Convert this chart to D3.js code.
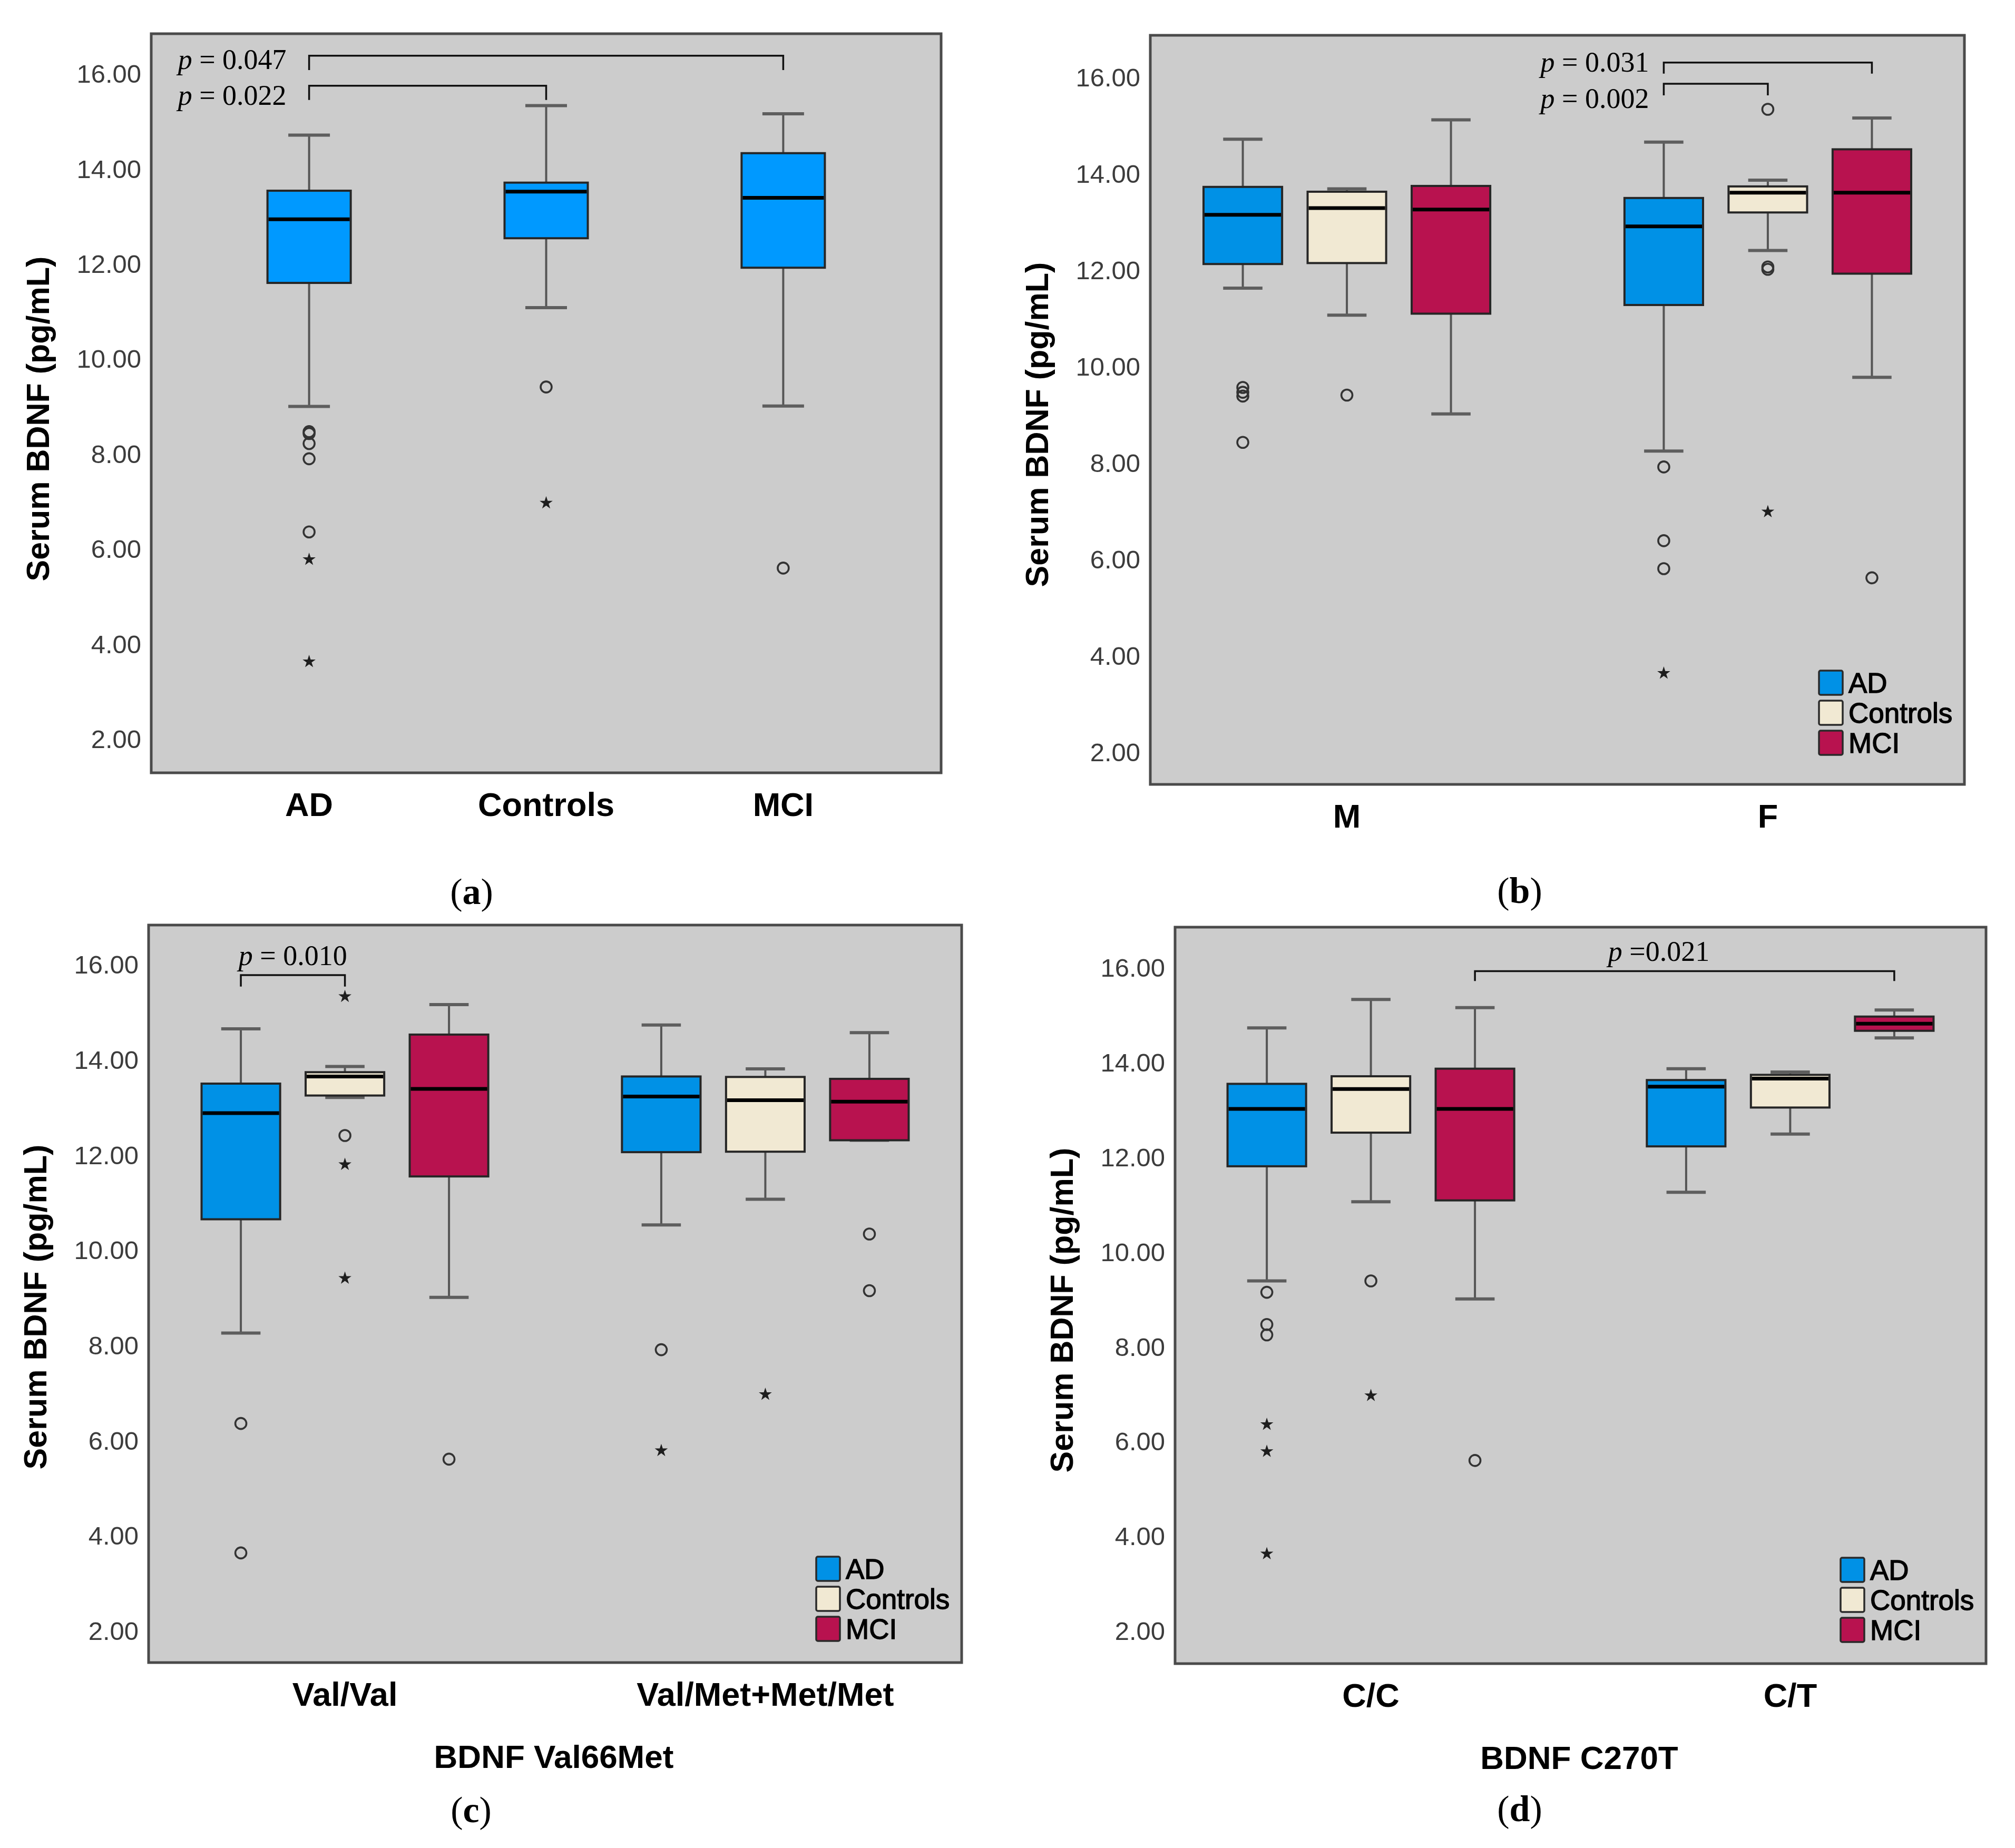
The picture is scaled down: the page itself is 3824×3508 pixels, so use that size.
<!DOCTYPE html>
<html><head><meta charset="utf-8">
<script src="https://cdn.jsdelivr.net/npm/d3@7"></script>
<style>body{margin:0;background:#fff}svg{display:block}</style>
</head><body>
<svg id="chart" width="3824" height="3508"></svg>
<script>
// ---------------- DATA ----------------
const groups = ["AD", "Controls", "MCI"];
const yTicks = [2, 4, 6, 8, 10, 12, 14, 16];

// box stats: [lower whisker, Q1, median, Q3, upper whisker]
// Panel (a)
const catsA = ["AD", "Controls", "MCI"];
const boxesA = [
  [9.01, 11.61, 12.95, 13.55, 14.72],
  [11.09, 12.55, 13.53, 13.72, 15.34],
  [9.02, 11.93, 13.40, 14.34, 15.17]
];
const circlesA = [[8.48, 8.44, 8.23, 7.91, 6.37], [9.42], [5.61]];
const starsA = [[5.79, 3.64], [6.98], []];

// Panel (b)
const catsB = ["M", "F"];
const boxesB_M = [
  [11.64, 12.14, 13.16, 13.74, 14.73],
  [11.08, 12.16, 13.30, 13.64, 13.70],
  [9.03, 11.11, 13.27, 13.76, 15.13]
];
const boxesB_F = [
  [8.26, 11.29, 12.92, 13.51, 14.67],
  [12.42, 13.21, 13.62, 13.75, 13.88],
  [9.79, 11.94, 13.62, 14.52, 15.17]
];
const circlesB_M = [[9.58, 9.48, 9.40, 8.44], [9.42], []];
const circlesB_F = [[7.93, 6.40, 5.82], [15.35, 12.08, 12.03], [5.63]];
const starsB_M = [[], [], []];
const starsB_F = [[3.65], [7.00], []];

// Panel (c)
const catsC = ["Val/Val", "Val/Met+Met/Met"];
const boxesC_VV = [
  [8.27, 10.66, 12.89, 13.51, 14.66],
  [13.22, 13.26, 13.66, 13.75, 13.87],
  [9.02, 11.56, 13.40, 14.54, 15.17]
];
const boxesC_VM = [
  [10.54, 12.07, 13.24, 13.66, 14.74],
  [11.08, 12.08, 13.16, 13.65, 13.82],
  [12.32, 12.32, 13.13, 13.61, 14.58]
];
const circlesC_VV = [[6.37, 3.65], [12.42], [5.62]];
const starsC_VV = [[], [15.34, 11.81, 9.42], []];
const circlesC_VM = [[7.92], [], [10.35, 9.16]];
const starsC_VM = [[5.80], [6.98], []];

// Panel (d)
const catsD = ["C/C", "C/T"];
const boxesD_CC = [
  [9.40, 11.82, 13.03, 13.56, 14.74],
  [11.07, 12.53, 13.45, 13.72, 15.34],
  [9.02, 11.10, 13.03, 13.88, 15.17]
];
const boxesD_CT = [
  [11.27, 12.24, 13.50, 13.64, 13.88],
  [12.50, 13.06, 13.67, 13.75, 13.81],
  [14.53, 14.68, 14.83, 14.98, 15.12]
];
const circlesD_CC = [[9.16, 8.48, 8.26], [9.40], [5.61]];
const starsD_CC = [[6.37, 5.80, 3.64], [6.98], []];
const circlesD_CT = [[], [], []];
const starsD_CT = [[], [], []];

// significance brackets (heights in data units)
const bracketsA = [
  { from: ["AD"], to: ["MCI"], bar: 16.39, tick: 16.09, eq: " = ", p: "0.047", ly: 16.32 },
  { from: ["AD"], to: ["Controls"], bar: 15.76, tick: 15.46, eq: " = ", p: "0.022", ly: 15.57 }
];
const bracketsB = [
  { from: ["F", "AD"], to: ["F", "MCI"], bar: 16.32, tick: 16.09, eq: " = ", p: "0.031", ly: 16.34 },
  { from: ["F", "AD"], to: ["F", "Controls"], bar: 15.88, tick: 15.64, eq: " = ", p: "0.002", ly: 15.58 }
];
const bracketsC = [
  { from: ["Val/Val", "AD"], to: ["Val/Val", "Controls"], bar: 15.79, tick: 15.55, eq: " = ", p: "0.010", ly: 16.21 }
];
const bracketsD = [
  { from: ["C/C", "MCI"], to: ["C/T", "MCI"], bar: 15.94, tick: 15.73, eq: " =", p: "0.021", ly: 16.37 }
];

const yTitle = "Serum BDNF (pg/mL)";
const panelLetters = ["a", "b", "c", "d"];
const xTitles = ["", "", "BDNF Val66Met", "BDNF C270T"];

// ---------------- STYLE / LAYOUT ----------------
const colorsGrouped = { AD: "#0091e6", Controls: "#f1e9d3", MCI: "#b8124f" };
const colorSingle = "#0099ff";
const SANS = "'Liberation Sans', Arial, Helvetica, sans-serif";
const SERIF = "'Liberation Serif', 'Times New Roman', serif";

const svg = d3.select("#chart");
svg.append("rect").attr("width", 3824).attr("height", 3508).attr("fill", "#fff");

function panel(cfg) {
  const f = cfg.frame;
  const g = svg.append("g");
  g.append("rect").attr("x", f.x0).attr("y", f.y0)
    .attr("width", f.x1 - f.x0).attr("height", f.y1 - f.y0)
    .attr("fill", "#cccccc").attr("stroke", "#4a4a4a").attr("stroke-width", 5);

  const y = d3.scaleLinear().domain([2, 16]).range([f.y2, f.y16]);
  const x = d3.scalePoint().domain(cfg.cats).range([f.x0, f.x1]).padding(cfg.pad);
  const sub = d3.scaleBand().domain(groups).range([-296.25, 296.25])
    .paddingInner(0.245).paddingOuter(0.1225);

  const cxOf = (cat, grp) => cfg.grouped ? x(cat) + sub(grp) + sub.bandwidth() / 2 : x(cat);
  const bw = cfg.grouped ? sub.bandwidth() : 158;

  // axis
  const ax = g.append("g").attr("transform", `translate(${f.x0},0)`)
    .call(d3.axisLeft(y).tickValues(yTicks).tickFormat(d3.format(".2f")).tickSize(0).tickPadding(19));
  ax.select(".domain").remove();
  ax.selectAll("text").attr("font-size", 49).attr("font-family", SANS).attr("fill", "#3c3c3c");

  // boxes
  cfg.items.forEach(it => {
    const cx = cxOf(it.cat, it.grp);
    const [lo, q1, med, q3, hi] = it.stats;
    const color = cfg.grouped ? colorsGrouped[it.grp] : colorSingle;
    const bg = g.append("g");
    bg.append("line").attr("x1", cx).attr("x2", cx).attr("y1", y(q3)).attr("y2", y(hi))
      .attr("stroke", "#555").attr("stroke-width", 4);
    bg.append("line").attr("x1", cx).attr("x2", cx).attr("y1", y(q1)).attr("y2", y(lo))
      .attr("stroke", "#555").attr("stroke-width", 4);
    [lo, hi].forEach(v => bg.append("line")
      .attr("x1", cx - bw / 4).attr("x2", cx + bw / 4).attr("y1", y(v)).attr("y2", y(v))
      .attr("stroke", "#5e5e5e").attr("stroke-width", 6));
    bg.append("rect").attr("x", cx - bw / 2).attr("y", y(q3))
      .attr("width", bw).attr("height", Math.max(1, y(q1) - y(q3)))
      .attr("fill", color).attr("stroke", "#262626").attr("stroke-width", 4);
    bg.append("line").attr("x1", cx - bw / 2 + 2).attr("x2", cx + bw / 2 - 2)
      .attr("y1", y(med)).attr("y2", y(med)).attr("stroke", "#000").attr("stroke-width", 7);
    it.circles.forEach(v => bg.append("circle").attr("cx", cx).attr("cy", y(v)).attr("r", 10.5)
      .attr("fill", "none").attr("stroke", "#333").attr("stroke-width", 3.6));
    it.stars.forEach(v => bg.append("path")
      .attr("d", d3.symbol().type(d3.symbolStar).size(190)())
      .attr("transform", `translate(${cx},${y(v)})`).attr("fill", "#1e1e1e"));
  });

  // brackets
  cfg.brackets.forEach(b => {
    const xa = cfg.grouped ? cxOf(b.from[0], b.from[1]) : cxOf(b.from[0]);
    const xb = cfg.grouped ? cxOf(b.to[0], b.to[1]) : cxOf(b.to[0]);
    g.append("path")
      .attr("d", `M${xa},${y(b.tick)}V${y(b.bar)}H${xb}V${y(b.tick)}`)
      .attr("fill", "none").attr("stroke", "#111").attr("stroke-width", 3.5);
    let tx, anchor;
    if (cfg.labelMode === "left") { tx = xa - cfg.labelGap; anchor = "end"; }
    else { tx = (xa + xb) / 2 + cfg.labelGap; anchor = "middle"; }
    const t = g.append("text").attr("x", tx).attr("y", y(b.ly)).attr("dy", "0.35em")
      .attr("text-anchor", anchor).attr("font-family", SERIF).attr("font-size", 54).attr("fill", "#000");
    t.append("tspan").attr("font-style", "italic").text("p");
    t.append("tspan").text(b.eq + b.p);
  });

  // category labels
  cfg.cats.forEach(c => g.append("text").attr("x", x(c)).attr("y", f.y1 + 82)
    .attr("text-anchor", "middle").attr("font-family", SANS).attr("font-weight", "bold")
    .attr("font-size", 63).attr("fill", "#000").text(c));

  // y title
  g.append("text").attr("transform", `translate(${f.x0 - 215},${cfg.titleY}) rotate(-90)`)
    .attr("text-anchor", "middle").attr("dy", "0.35em")
    .attr("font-family", SANS).attr("font-weight", "bold").attr("font-size", 61).attr("fill", "#000")
    .text(yTitle);

  // x title
  if (cfg.xTitle) g.append("text").attr("x", cfg.xTitleX).attr("y", f.y1 + 200)
    .attr("text-anchor", "middle").attr("font-family", SANS).attr("font-weight", "bold")
    .attr("font-size", 62).attr("fill", "#000").text(cfg.xTitle);

  // legend
  if (cfg.grouped) {
    const lx = f.x1 - 276, ly = cfg.legendTop;
    groups.forEach((gname, i) => {
      g.append("rect").attr("x", lx).attr("y", ly + i * 57).attr("width", 45).attr("height", 46)
        .attr("rx", 3).attr("fill", colorsGrouped[gname]).attr("stroke", "#2a2a2a").attr("stroke-width", 3.5);
      g.append("text").attr("x", lx + 56).attr("y", ly + i * 57 + 42)
        .attr("font-family", SANS).attr("font-size", 53).attr("fill", "#000")
        .attr("stroke", "#000").attr("stroke-width", 1.4).text(gname);
    });
  }

  // panel letter
  const pl = svg.append("text").attr("x", cfg.letterX).attr("y", cfg.letterY)
    .attr("text-anchor", "middle").attr("font-family", SERIF).attr("font-size", 70).attr("fill", "#000");
  pl.append("tspan").text("(");
  pl.append("tspan").attr("font-weight", "bold").text(cfg.letter);
  pl.append("tspan").text(")");
}

function itemsGrouped(cats, boxSets, circleSets, starSets) {
  const out = [];
  cats.forEach((c, ci) => groups.forEach((gname, gi) => out.push({
    cat: c, grp: gname, stats: boxSets[ci][gi], circles: circleSets[ci][gi], stars: starSets[ci][gi]
  })));
  return out;
}

panel({
  frame: { x0: 287, x1: 1786, y0: 64, y1: 1467, y16: 141, y2: 1404 },
  cats: catsA, pad: 0.666, grouped: false,
  items: catsA.map((c, i) => ({ cat: c, stats: boxesA[i], circles: circlesA[i], stars: starsA[i] })),
  brackets: bracketsA, labelMode: "left", labelGap: 43,
  titleY: 795, letter: panelLetters[0], letterX: 895, letterY: 1716
});
panel({
  frame: { x0: 2183, x1: 3728, y0: 67, y1: 1489, y16: 148, y2: 1429 },
  cats: catsB, pad: 0.467, grouped: true,
  items: itemsGrouped(catsB, [boxesB_M, boxesB_F], [circlesB_M, circlesB_F], [starsB_M, starsB_F]),
  brackets: bracketsB, labelMode: "left", labelGap: 28, legendTop: 1273,
  titleY: 806, letter: panelLetters[1], letterX: 2884, letterY: 1714
});
panel({
  frame: { x0: 282, x1: 1825, y0: 1756, y1: 3156, y16: 1832, y2: 3097 },
  cats: catsC, pad: 0.467, grouped: true,
  items: itemsGrouped(catsC, [boxesC_VV, boxesC_VM], [circlesC_VV, circlesC_VM], [starsC_VV, starsC_VM]),
  brackets: bracketsC, labelMode: "mid", labelGap: 0, legendTop: 2955,
  titleY: 2481, xTitle: xTitles[2], xTitleX: 1051,
  letter: panelLetters[2], letterX: 894, letterY: 3459
});
panel({
  frame: { x0: 2230, x1: 3769, y0: 1760, y1: 3158, y16: 1838, y2: 3097 },
  cats: catsD, pad: 0.467, grouped: true,
  items: itemsGrouped(catsD, [boxesD_CC, boxesD_CT], [circlesD_CC, circlesD_CT], [starsD_CC, starsD_CT]),
  brackets: bracketsD, labelMode: "mid", labelGap: -49, legendTop: 2957,
  titleY: 2487, xTitle: xTitles[3], xTitleX: 2997,
  letter: panelLetters[3], letterX: 2884, letterY: 3457
});
</script>
</body></html>
